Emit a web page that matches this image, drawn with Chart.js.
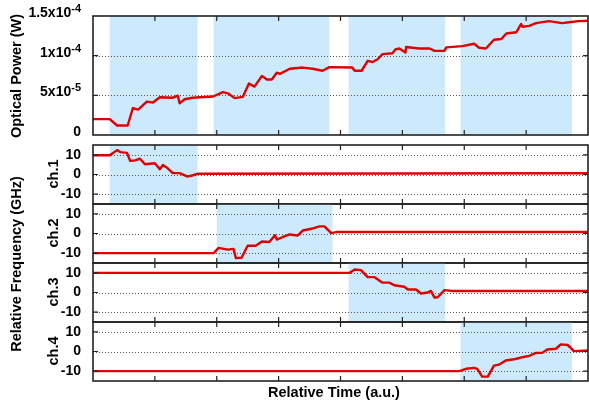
<!DOCTYPE html>
<html>
<head>
<meta charset="utf-8">
<script src="https://cdn.jsdelivr.net/npm/chart.js@4.4.1/dist/chart.umd.min.js"></script>
<style>
  body { margin: 0; background: #fff; }
  #wrap { position: relative; width: 589px; height: 405px; overflow: hidden;
          font-family: "Liberation Sans", Arial, sans-serif; font-weight: bold; color: #000; }
  #wrap canvas { position: absolute; left: 0; }
  .lab { position: absolute; white-space: nowrap; font-size: 14.5px; line-height: 1;
         transform: translate(-50%, -50%); }
  .rot { transform: translate(-50%, -50%) rotate(-90deg); }
</style>
</head>
<body>
<div id="wrap">
  <canvas id="cPower" width="589" height="140" style="top:0px"></canvas>
  <canvas id="cCh1" width="589" height="107" style="top:121px"></canvas>
  <canvas id="cCh2" width="589" height="107" style="top:180px"></canvas>
  <canvas id="cCh3" width="589" height="107" style="top:239px"></canvas>
  <canvas id="cCh4" width="589" height="107" style="top:298px"></canvas>

  <div class="lab rot" style="left:16px; top:76px">Optical Power (W)</div>
  <div class="lab rot" style="left:16px; top:264px">Relative Frequency (GHz)</div>
  <div class="lab rot" style="left:53px; top:174px">ch.1</div>
  <div class="lab rot" style="left:53px; top:233px">ch.2</div>
  <div class="lab rot" style="left:53px; top:292px">ch.3</div>
  <div class="lab rot" style="left:53px; top:351px">ch.4</div>
  <div class="lab" style="left:334px; top:392px">Relative Time (a.u.)</div>
</div>

<script>
// time axis (a.u.), ticks without labels
const xTicks = [1, 2, 3, 4, 5, 6, 7];

// optical power, in units of 1e-5 W
const powerTime = [0, 0.27, 0.39, 0.56, 0.645, 0.73, 0.87, 0.97, 1.08, 1.29, 1.37, 1.40, 1.48, 1.61, 1.73,
  1.94, 2.10, 2.18, 2.29, 2.42, 2.52, 2.61, 2.73, 2.81, 2.89, 2.97, 3.02, 3.18, 3.39, 3.55,
  3.71, 3.82, 4.19, 4.23, 4.34, 4.44, 4.52, 4.60, 4.68, 4.84, 4.89, 4.95, 5.05, 5.06, 5.27,
  5.44, 5.52, 5.68, 5.71, 5.97, 6.16, 6.24, 6.35, 6.48, 6.60, 6.68, 6.84, 6.92, 6.94, 7.05,
  7.16, 7.37, 7.58, 7.73, 7.85, 8.0];
const powerValues = [2.0, 2.0, 1.2, 1.2, 3.4, 3.2, 4.2, 4.1, 4.75, 4.7, 4.95, 4.0, 4.5, 4.7, 4.75,
  4.85, 5.4, 5.25, 4.65, 4.8, 6.5, 6.1, 7.45, 7.0, 7.0, 7.85, 7.7, 8.35, 8.5, 8.35,
  8.1, 8.55, 8.5, 8.1, 8.1, 9.35, 9.2, 9.55, 10.2, 10.3, 10.8, 10.9, 10.4, 11.1, 10.9,
  10.9, 10.6, 10.6, 11.05, 11.2, 11.5, 11.0, 10.9, 12.0, 12.1, 12.8, 12.95, 14.0, 13.65, 13.75,
  14.1, 14.35, 14.1, 14.25, 14.35, 14.4];
const powerTicks = [0, 5, 10, 15];
const powerTickBase = ['0', '5x10', '1x10', '1.5x10'];
const powerTickExp = ['', '-5', '-4', '-4'];

// relative frequency (GHz) per channel
const ch1Time = [0, 0.27, 0.39, 0.44, 0.55, 0.60, 0.68, 0.76, 0.84, 1.0, 1.08, 1.13, 1.19, 1.29, 1.40, 1.52, 1.60, 1.69, 8.0];
const ch1Values = [9.8, 9.8, 12.4, 11.4, 11.0, 6.9, 7.2, 8.0, 5.2, 5.7, 2.7, 4.8, 3.6, 0.7, 0.7, -1.0, -0.5, 0.35, 0.6];

const ch2Time = [0, 1.95, 2.03, 2.18, 2.27, 2.31, 2.40, 2.50, 2.63, 2.73, 2.85, 2.94, 2.97, 3.06, 3.18, 3.31, 3.39, 3.53, 3.66, 3.74, 3.85, 3.95, 8.0];
const ch2Values = [-10, -10, -7.3, -8.2, -7.8, -12.5, -12.3, -6.2, -6.2, -4.1, -4.3, -0.9, -3.1, -1.9, -0.5, -1.0, 1.5, 2.4, 3.6, 3.6, 0.2, 0.8, 0.8];

const ch3Time = [0, 4.15, 4.23, 4.33, 4.44, 4.55, 4.68, 4.79, 4.87, 5.03, 5.09, 5.22, 5.30, 5.41, 5.46, 5.52, 5.57, 5.68, 5.80, 8.0];
const ch3Values = [10, 10, 11.7, 11.4, 7.8, 7.8, 5.0, 5.0, 3.7, 2.9, 1.5, 1.5, -0.5, 0, 0.8, -2.6, -2.4, 1.2, 0.8, 0.8];

const ch4Time = [0, 5.92, 6.03, 6.16, 6.21, 6.29, 6.38, 6.48, 6.56, 6.67, 6.83, 6.94, 7.05, 7.16, 7.26, 7.34, 7.48, 7.56, 7.67, 7.72, 7.77, 8.0];
const ch4Values = [-10, -10, -8.8, -8.3, -8.8, -12.8, -12.8, -7.2, -6.7, -4.6, -3.8, -2.9, -2.2, -0.7, -0.7, 1.0, 1.4, 3.6, 3.3, 1.9, 0.2, 0.5];
const freqTicks = [-10, 0, 10];

// shaded time windows
const powerShades = [[0.27, 1.69], [1.95, 3.82], [4.13, 5.69], [5.94, 7.74]];
const ch1Shades = [[0.27, 1.69]];
const ch2Shades = [[2.0, 3.87]];
const ch3Shades = [[4.13, 5.69]];
const ch4Shades = [[5.94, 7.74]];

const shadeColor = '#cceafb';
const lineColor = '#e00000';
const font = '"Liberation Sans", Arial, sans-serif';

const panelDecor = {
  id: 'panelDecor',
  beforeDatasetsDraw(chart, args, opts) {
    const {ctx, chartArea: a, scales: {x, y}} = chart;
    ctx.save();
    ctx.fillStyle = shadeColor;
    for (const [s, e] of opts.shades) {
      const x0 = x.getPixelForValue(s);
      const x1 = x.getPixelForValue(e);
      ctx.fillRect(x0, a.top, x1 - x0, a.bottom - a.top);
    }
    ctx.strokeStyle = '#555';
    ctx.lineWidth = 1;
    ctx.setLineDash([1, 2]);
    for (const v of opts.grid) {
      const py = Math.round(y.getPixelForValue(v)) + 0.5;
      ctx.beginPath();
      ctx.moveTo(a.left, py);
      ctx.lineTo(a.right, py);
      ctx.stroke();
    }
    ctx.restore();
  },
  afterDraw(chart, args, opts) {
    const {ctx, chartArea: a, scales: {x, y}} = chart;
    ctx.save();
    ctx.strokeStyle = '#222';
    // inward tick marks
    ctx.lineWidth = 1.2;
    for (const t of xTicks) {
      const px = x.getPixelForValue(t);
      ctx.beginPath();
      ctx.moveTo(px, a.top); ctx.lineTo(px, a.top + 5);
      ctx.moveTo(px, a.bottom); ctx.lineTo(px, a.bottom - 5);
      ctx.stroke();
    }
    for (const v of opts.grid) {
      const py = y.getPixelForValue(v);
      ctx.beginPath();
      ctx.moveTo(a.left, py); ctx.lineTo(a.left + 5, py);
      ctx.moveTo(a.right, py); ctx.lineTo(a.right - 5, py);
      ctx.stroke();
    }
    ctx.lineWidth = 1.6;
    ctx.strokeRect(a.left, a.top, a.right - a.left, a.bottom - a.top);

    // power labels with superscript exponent
    if (opts.expLabels) {
      ctx.fillStyle = '#000';
      ctx.textAlign = 'right';
      ctx.textBaseline = 'alphabetic';
      powerTicks.forEach((v, i) => {
        const py = y.getPixelForValue(v) + 1;
        let right = a.left - 12;
        if (powerTickExp[i]) {
          ctx.font = 'bold 11px ' + font;
          ctx.fillText(powerTickExp[i], right, py - 5);
          right -= ctx.measureText(powerTickExp[i]).width;
        }
        ctx.font = 'bold 14px ' + font;
        ctx.fillText(powerTickBase[i], right, py);
      });
    }
    ctx.restore();
  }
};

function makePanel(id, times, values, yMin, yMax, pad, decor, showTicks) {
  const pts = times.map((t, i) => ({x: t, y: values[i]}));
  return new Chart(document.getElementById(id), {
    type: 'line',
    data: {
      datasets: [{
        data: pts,
        borderColor: lineColor,
        borderWidth: 2.4,
        pointRadius: 0,
        tension: 0,
        borderJoinStyle: 'round'
      }]
    },
    options: {
      responsive: false,
      animation: false,
      layout: {padding: {top: pad.top, bottom: pad.bottom, left: 0, right: 1}},
      plugins: {legend: {display: false}, tooltip: {enabled: false}, panelDecor: decor},
      scales: {
        x: {type: 'linear', min: 0, max: 8, display: false},
        y: {
          min: yMin, max: yMax,
          afterFit: s => { s.width = 93; },
          afterBuildTicks: s => { s.ticks = decor.grid.map(v => ({value: v})); },
          border: {display: false},
          grid: {display: false, drawTicks: false},
          ticks: {
            display: showTicks,
            padding: 12,
            color: '#000',
            font: {family: font, size: 14, weight: 'bold'}
          }
        }
      }
    },
    plugins: [panelDecor]
  });
}

makePanel('cPower', powerTime, powerValues, 0, 15, {top: 16, bottom: 5},
  {shades: powerShades, grid: [5, 10], expLabels: true}, false);
makePanel('cCh1', ch1Time, ch1Values, -15, 15, {top: 24, bottom: 24},
  {shades: ch1Shades, grid: freqTicks}, true);
makePanel('cCh2', ch2Time, ch2Values, -15, 15, {top: 24, bottom: 24},
  {shades: ch2Shades, grid: freqTicks}, true);
makePanel('cCh3', ch3Time, ch3Values, -15, 15, {top: 24, bottom: 24},
  {shades: ch3Shades, grid: freqTicks}, true);
makePanel('cCh4', ch4Time, ch4Values, -15, 15, {top: 24, bottom: 24},
  {shades: ch4Shades, grid: freqTicks}, true);
</script>
</body>
</html>
